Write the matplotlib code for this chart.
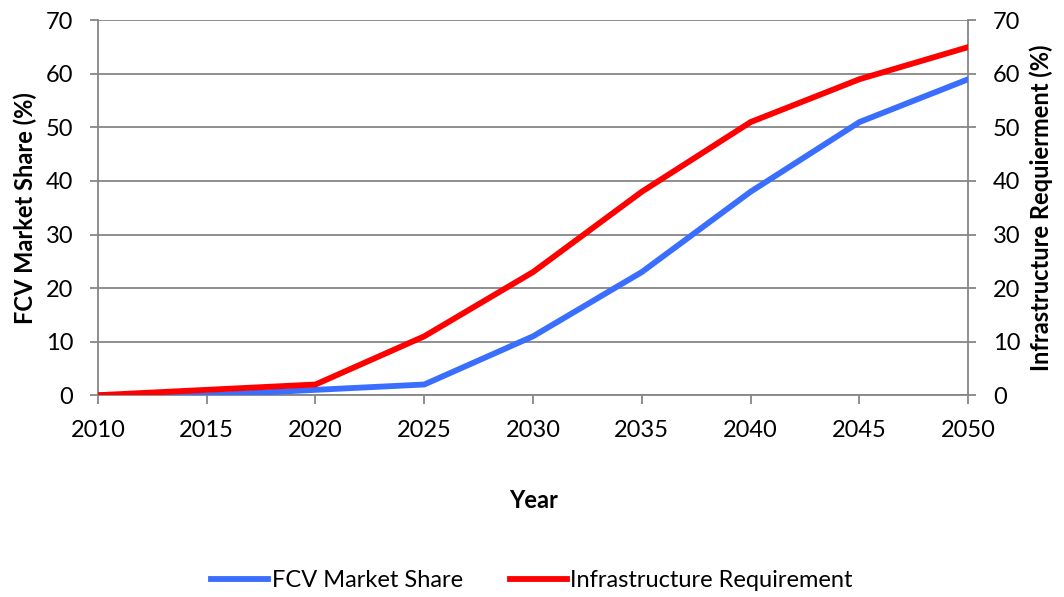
import matplotlib.pyplot as plt

# Series
years = [2010, 2015, 2020, 2025, 2030, 2035, 2040, 2045, 2050]
fcv_share = [0, 0, 1, 2, 11, 23, 38, 51, 59]
infra_req = [0, 1, 2, 11, 23, 38, 51, 59, 65]
y_ticks = [0, 10, 20, 30, 40, 50, 60, 70]

plt.rcParams['font.family'] = ['Lato', 'DejaVu Sans']
grey = '#868686'
fs = 17

fig = plt.figure(figsize=(10.64, 5.97), dpi=100)
ax = fig.add_axes([0.092, 0.338, 0.818, 0.628])

ax.plot(years, fcv_share, color='#3A6EFF', linewidth=4.2, label='FCV Market Share', zorder=3)
ax.plot(years, infra_req, color='#FF0000', linewidth=4.2, label='Infrastructure Requirement', zorder=4)

ax.set_xlim(2010, 2050)
ax.set_ylim(0, 70)
ax.set_xticks(years)
ax.set_yticks(y_ticks)
ax.grid(axis='y', color=grey, linewidth=1.3)
ax.set_axisbelow(True)

for side in ['left', 'right', 'bottom']:
    ax.spines[side].set_color(grey)
    ax.spines[side].set_linewidth(1.3)
ax.spines['top'].set_visible(False)

ax.tick_params(axis='y', colors=grey, labelcolor='black', labelsize=fs,
               length=5.8, width=1.3, direction='out', pad=12)
ax.tick_params(axis='x', colors=grey, labelcolor='black', labelsize=fs,
               length=6.5, width=1.3, direction='out', pad=11)

ax.set_xlabel('Year', fontsize=fs, fontweight='bold', labelpad=35)
ax.set_ylabel('FCV Market Share (%)', fontsize=fs, fontweight='bold', labelpad=6)

ax2 = ax.twinx()
ax2.set_ylim(0, 70)
ax2.set_yticks(y_ticks)
for side in ['left', 'right', 'bottom', 'top']:
    ax2.spines[side].set_visible(False)
ax2.tick_params(axis='y', colors=grey, labelcolor='black', labelsize=fs,
                length=5.8, width=1.3, direction='out', pad=12)
ax2.set_ylabel('Infrastructure Requierment (%)', fontsize=fs, fontweight='bold', labelpad=6)

handles, labels = ax.get_legend_handles_labels()
fig.legend(handles, labels, loc='center', bbox_to_anchor=(0.5, 0.027), ncol=2,
           frameon=False, fontsize=fs, handlelength=2.4, columnspacing=2.0,
           handletextpad=0.15)

fig.savefig('out.png', dpi=100)
